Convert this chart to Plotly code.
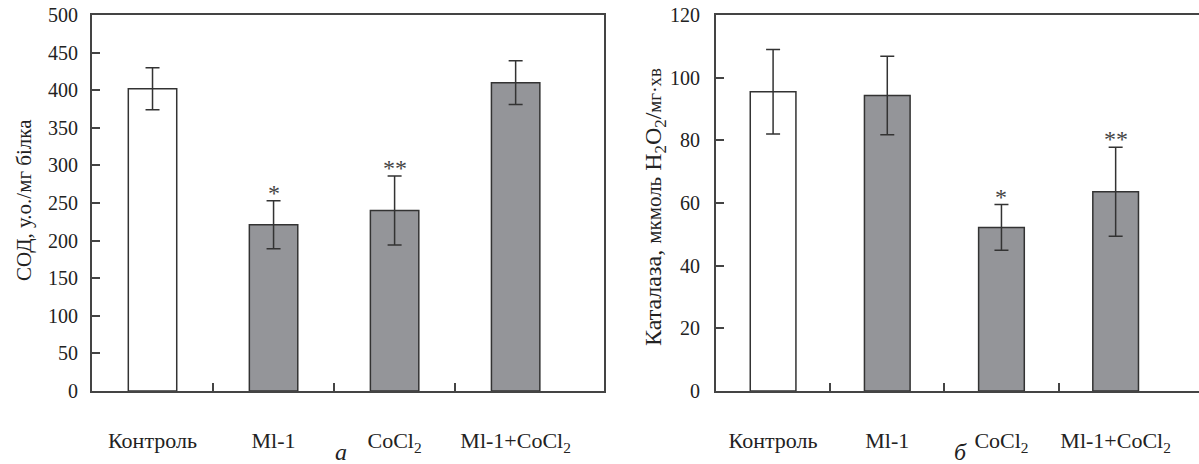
import plotly.graph_objects as go

categories = ["Контроль", "Ml-1", "CoCl<sub>2</sub>", "Ml-1+CoCl<sub>2</sub>"]
sod_values = [402, 221, 240, 410]
sod_errors = [28, 32, 46, 29]
sod_marks = ["", "*", "**", ""]
cat_values = [95.5, 94.3, 52.2, 63.6]
cat_errors = [13.5, 12.5, 7.3, 14.2]
cat_marks = ["", "", "*", "**"]
sod_ticks = [0, 50, 100, 150, 200, 250, 300, 350, 400, 450, 500]
cat_ticks = [0, 20, 40, 60, 80, 100, 120]

FONT = "Liberation Serif"
INK = "#333333"
GRAY = "#949599"
W, H = 1199, 464

xs = list(range(len(categories)))
fills = ["#ffffff"] + [GRAY] * (len(categories) - 1)

fig = go.Figure()
for vals, errs, xa, ya in [(sod_values, sod_errors, "x", "y"), (cat_values, cat_errors, "x2", "y2")]:
    fig.add_trace(go.Bar(
        x=xs, y=vals, width=0.4, xaxis=xa, yaxis=ya,
        marker=dict(color=fills, line=dict(color=INK, width=1.5)),
        error_y=dict(type="data", array=errs, visible=True, color=INK, thickness=1.5, width=7),
        showlegend=False, hoverinfo="skip",
    ))

def px_x(p):
    return min(1.0, p / W)

def px_y(p):
    return 1 - p / H

ydom = [px_y(391), px_y(15)]
line_common = dict(showline=True, linecolor="#444444", linewidth=2, showgrid=False, zeroline=False,
                   automargin=False, ticklabeloverflow="allow")
xfont = dict(family=FONT, size=22, color="#222222")
yfont = dict(family=FONT, size=20, color="#222222")
minor_x = dict(tickvals=[0.5, 1.5, 2.5], ticks="inside", ticklen=8, tickwidth=1.5, tickcolor="#444444")

fig.update_layout(
    width=W, height=H, margin=dict(l=0, r=0, t=0, b=0),
    paper_bgcolor="white", plot_bgcolor="white",
    xaxis=dict(domain=[px_x(92), px_x(604)], range=[-0.5, 3.73], tickvals=xs, ticktext=categories,
               ticks="", mirror=True, anchor="y", minor=minor_x, ticklabelstandoff=29,
               tickfont=xfont, **line_common),
    yaxis=dict(domain=ydom, range=[0, 500], tickvals=sod_ticks, ticks="inside", ticklen=8, tickwidth=1.5,
               tickcolor="#444444", mirror=True, anchor="x", ticklabelstandoff=8, tickfont=yfont,
               **line_common),
    xaxis2=dict(domain=[px_x(716), 1.0], range=[-0.5, 3.73], tickvals=xs, ticktext=categories,
                ticks="", mirror=True, anchor="y2", minor=minor_x, ticklabelstandoff=29,
                tickfont=xfont, **line_common),
    yaxis2=dict(domain=ydom, range=[0, 120], tickvals=cat_ticks, ticks="inside", ticklen=8, tickwidth=1.5,
                tickcolor="#444444", mirror=False, anchor="x2", ticklabelstandoff=10, tickfont=yfont,
                **line_common),
)

annotations = []
for marks, vals, errs, xr, yr in [(sod_marks, sod_values, sod_errors, "x", "y"),
                                   (cat_marks, cat_values, cat_errors, "x2", "y2")]:
    for i, m in enumerate(marks):
        if m:
            annotations.append(dict(x=i, y=vals[i] + errs[i], xref=xr, yref=yr, text=m, showarrow=False,
                                    xanchor="center", yanchor="bottom", yshift=-7,
                                    font=dict(family=FONT, size=24, color="#444444")))

annotations.append(dict(x=px_x(24), y=px_y(200), xref="paper", yref="paper", textangle=-90,
                        xanchor="center", yanchor="middle",
                        text="СОД, у.о./мг білка", showarrow=False,
                        font=dict(family=FONT, size=21, color="#222222")))
annotations.append(dict(x=px_x(655), y=px_y(207), xref="paper", yref="paper", textangle=-90,
                        xanchor="center", yanchor="middle",
                        text="Каталаза, <span style='font-size:21px'>мкмоль</span> H<sub>2</sub>O<sub>2</sub>/<span style='font-size:19px'>мг·хв</span>",
                        showarrow=False, font=dict(family=FONT, size=24, color="#222222")))
annotations.append(dict(x=px_x(341), y=px_y(452), xref="paper", yref="paper", text="<i>а</i>",
                        xanchor="center", yanchor="middle",
                        showarrow=False, font=dict(family=FONT, size=24, color="#222222")))
annotations.append(dict(x=px_x(960), y=px_y(452), xref="paper", yref="paper", text="<i>б</i>",
                        xanchor="center", yanchor="middle",
                        showarrow=False, font=dict(family=FONT, size=24, color="#222222")))
fig.update_layout(annotations=annotations)

fig.write_html("out.html", config={"displayModeBar": False},
               post_script="document.body.style.margin='0';document.body.style.overflow='hidden';")
